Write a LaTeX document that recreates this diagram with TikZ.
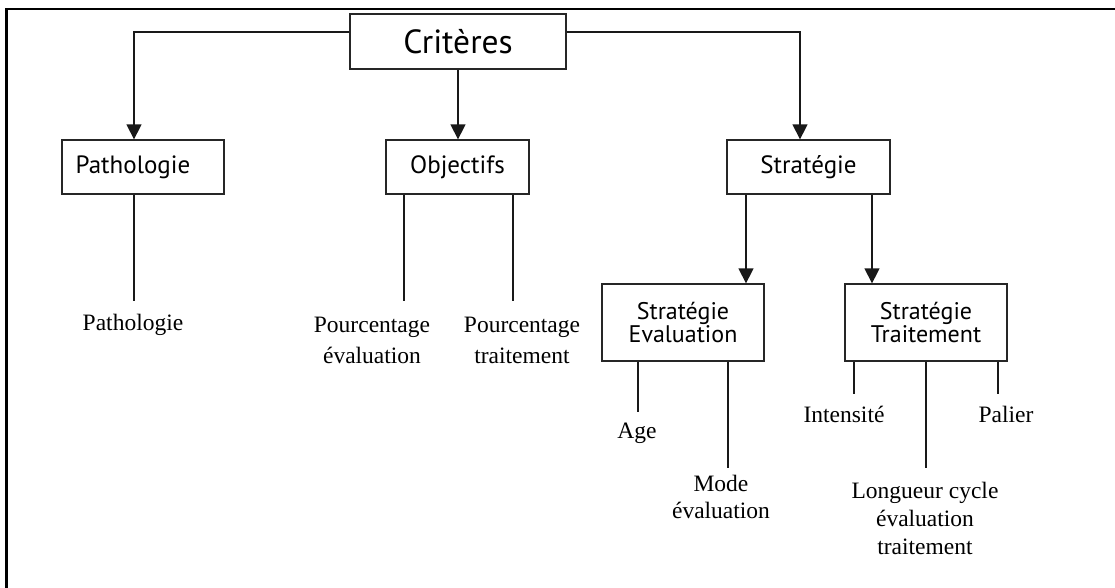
\documentclass[tikz,border=0pt]{standalone}
\usepackage{fontspec}
\setmainfont{Liberation Serif}
\newfontfamily\boxfont{PT Sans}
\usetikzlibrary{arrows.meta}
\tikzset{
  box/.style={draw=black!85, line width=1.3pt, inner sep=0pt, align=center, font=\boxfont\fontsize{25}{25}\selectfont},
  bigbox/.style={box, font=\boxfont\fontsize{33.5}{33.5}\selectfont},
  twobox/.style={box, font=\boxfont\fontsize{24}{23}\selectfont},
  leaf/.style={inner sep=0pt, align=center, font=\fontsize{23.5}{28}\selectfont},
  link/.style={draw=black!90, line width=1.4pt},
  arr/.style={link, -{Triangle[width=15pt,length=15pt]}},
  frame/.style={draw=black, line width=2.6pt}
}
\begin{document}
\begin{tikzpicture}[x=1pt,y=-1pt]
\useasboundingbox (0,0) rectangle (1115,588);
% outer frame
\draw[frame] (6.7,588) -- (6.7,9) -- (1115,9);

% boxes
\node[bigbox, minimum width=216pt, minimum height=55pt] (crit) at (458,41.5) {Critères};
\node[box, minimum width=162pt, minimum height=54pt] (patho) at (143,167) {\hspace*{-20pt}Pathologie};
\node[box, minimum width=143pt, minimum height=54pt] (obj) at (457.5,167) {Objectifs};
\node[box, minimum width=163pt, minimum height=54pt] (strat) at (808.5,167) {Stratégie};
\node[twobox, minimum width=162pt, minimum height=77pt] (se) at (683,322.5) {Stratégie\\Evaluation};
\node[twobox, minimum width=162pt, minimum height=77pt] (st) at (926,322.5) {Stratégie\\Traitement};

% leaf labels
\node[leaf] (lpatho) at (133,325) {Pathologie};
\node[leaf, font=\fontsize{23.5}{31}\selectfont] (lpev) at (372,340.5) {Pourcentage\\évaluation};
\node[leaf, font=\fontsize{23.5}{31}\selectfont] (lptr) at (522,340.5) {Pourcentage\\traitement};
\node[leaf] (lage) at (637,433) {Age};
\node[leaf, font=\fontsize{23.5}{27}\selectfont] (lmode) at (721,496.5) {Mode\\évaluation};
\node[leaf] (lint) at (844,414) {Intensité};
\node[leaf] (llong) at (925,518) {Longueur cycle\\évaluation\\traitement};
\node[leaf] (lpal) at (1006,414) {Palier};

% ends of the plain connectors
\coordinate (ePatho) at (134,301);
\coordinate (ePev) at (404,301);
\coordinate (ePtr) at (513,301);
\coordinate (eAge) at (638,412);
\coordinate (eMode) at (728,468);
\coordinate (eInt) at (854,394);
\coordinate (eLong) at (926,468);
\coordinate (ePal) at (998,394);

% arrows
\draw[arr] ([yshift=9.5pt]crit.west) -| ([xshift=-9pt]patho.north);
\draw[arr] (crit.south) -- (crit.south |- obj.north);
\draw[arr] ([yshift=9.5pt]crit.east) -| ([xshift=-8.5pt]strat.north);
\draw[arr] ([xshift=-62.5pt]strat.south) -- ([xshift=63pt]se.north);
\draw[arr] ([xshift=63.5pt]strat.south) -- ([xshift=-54pt]st.north);

% plain connectors
\draw[link] (ePatho |- patho.south) -- (ePatho);
\draw[link] (ePev |- obj.south) -- (ePev);
\draw[link] (ePtr |- obj.south) -- (ePtr);
\draw[link] (eAge |- se.south) -- (eAge);
\draw[link] (eMode |- se.south) -- (eMode);
\draw[link] (eInt |- st.south) -- (eInt);
\draw[link] (eLong |- st.south) -- (eLong);
\draw[link] (ePal |- st.south) -- (ePal);
\end{tikzpicture}
\end{document}
